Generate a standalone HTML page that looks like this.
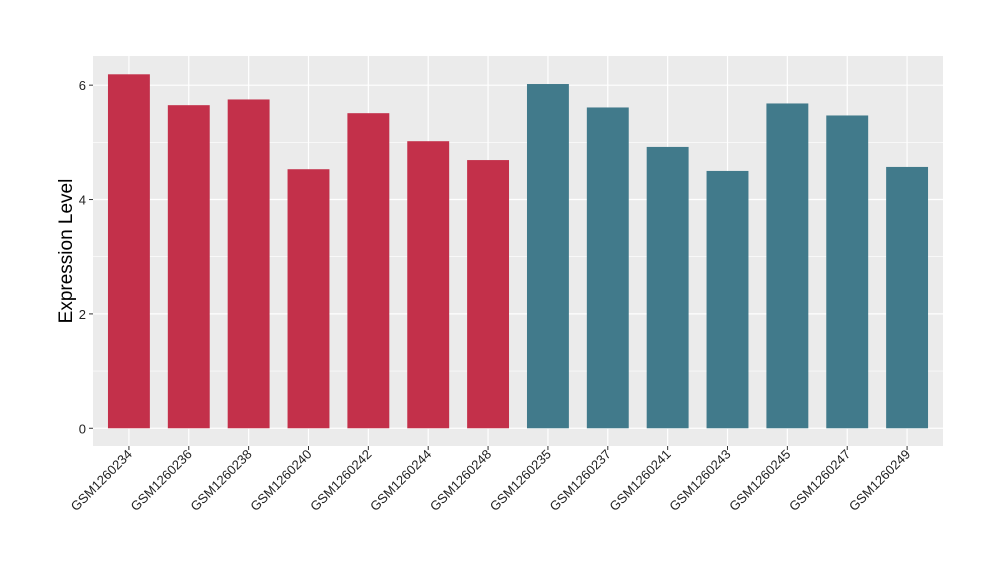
<!DOCTYPE html>
<html><head><meta charset="utf-8"><style>
body{margin:0;background:#fff;}
svg text{font-family:"Liberation Sans",Arial,sans-serif;}
</style></head><body>
<svg id="chart" width="1000" height="580" xmlns="http://www.w3.org/2000/svg">
<rect x="93" y="56" width="850" height="390" fill="#EBEBEB"/>
<g id="grid"></g><g id="bars"></g><g id="axes"></g>
<text transform="translate(72,251) rotate(-90)" text-anchor="middle" font-size="19" fill="#000">Expression Level</text>
</svg>
<script>
const categories=["GSM1260234","GSM1260236","GSM1260238","GSM1260240","GSM1260242","GSM1260244","GSM1260248","GSM1260235","GSM1260237","GSM1260241","GSM1260243","GSM1260245","GSM1260247","GSM1260249"];
const values=[6.19,5.65,5.75,4.53,5.51,5.02,4.69,6.02,5.61,4.92,4.50,5.68,5.47,4.57];
const groups=["a","a","a","a","a","a","a","b","b","b","b","b","b","b"];
const yTicks=[0,2,4,6];
const colors={a:"#C3304A",b:"#417A8B"};
const ns="http://www.w3.org/2000/svg";
const L=93,R=943,T=56,B=446;
const yMin=-0.31,yMax=6.51;
const y=v=>B-(v-yMin)/(yMax-yMin)*(B-T);
const step=(R-L)/(categories.length-1+1.2);
const x=i=>L+(0.6+i)*step;
const bw=step*0.7;
function mk(tag,attrs,parent){const e=document.createElementNS(ns,tag);for(const k in attrs)e.setAttribute(k,attrs[k]);parent.appendChild(e);return e;}
const grid=document.getElementById('grid'),bars=document.getElementById('bars'),axes=document.getElementById('axes');
for(let k=0;k<yTicks.length;k++){
  const t=yTicks[k];
  if(k<yTicks.length-1){const m=mk('line',{x1:L,x2:R,y1:y(t+1),y2:y(t+1),stroke:'#fff','stroke-width':0.6},grid);
  
  }
  const g=mk('line',{x1:L,x2:R,y1:y(t),y2:y(t),stroke:'#fff','stroke-width':1.2},grid);
  
  
  const tk=mk('line',{x1:L-4,x2:L,y1:y(t),y2:y(t),stroke:'#333','stroke-width':1},axes);
  
  
  const tx=mk('text',{x:L-7,y:y(t)+5,'text-anchor':'end','font-size':13,fill:'#222'},axes);
  tx.textContent=t;
  
  
}
categories.forEach((c,i)=>{
  const gl=mk('line',{x1:x(i),x2:x(i),y1:T,y2:B,stroke:'#fff','stroke-width':1.2},grid);
  
  
  const r=mk('rect',{x:x(i)-bw/2,y:y(values[i]),width:bw,height:y(0)-y(values[i]),fill:colors[groups[i]]},bars);
  
  
  const tk=mk('line',{x1:x(i),x2:x(i),y1:B,y2:B+4,stroke:'#333','stroke-width':1},axes);
  
  
  const tx=mk('text',{transform:`translate(${x(i)+4},${B+9}) rotate(-45)`,'text-anchor':'end','font-size':13,fill:'#222'},axes);
  tx.textContent=c;
  
  
});
</script>
</body></html>
